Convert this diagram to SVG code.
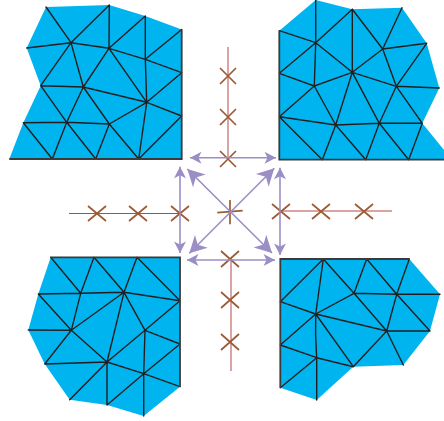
<svg xmlns="http://www.w3.org/2000/svg" width="444" height="421" viewBox="0 0 444 421">
<style>
.fill{fill:#00b5ef;stroke:none}
.mesh{fill:none;stroke:#231f20;stroke-width:1.4;stroke-linejoin:round;stroke-linecap:round}
.edge{fill:none;stroke:#3a3a3c;stroke-width:1.8}
.red{fill:none;stroke:#b4484a;stroke-width:1}
.x{fill:none;stroke:#9c5a35;stroke-width:1.7}
.small{stroke:#9b8ec4;stroke-width:1.6;fill:none;marker-start:url(#hs);marker-end:url(#hs)}
.big{stroke:#9b8ec4;stroke-width:1.6;fill:none;marker-start:url(#hb);marker-end:url(#hb)}
</style>
<defs>
<marker id="hs" markerUnits="userSpaceOnUse" markerWidth="14" markerHeight="16" refX="12.500" refY="8" orient="auto-start-reverse" viewBox="0 0 14 16"><path d="M12.500 8L1 2L4 8L1 14Z" fill="#9b8ec4"/></marker>
<marker id="hb" markerUnits="userSpaceOnUse" markerWidth="20" markerHeight="22" refX="18" refY="11" orient="auto-start-reverse" viewBox="0 0 20 22"><path d="M18 11L1 2L6 11L1 20Z" fill="#9b8ec4"/></marker>
</defs>
<g id="mesh-top-left">
<path class="fill" d="M46 7L109.300 5L145.300 16L181.700 29.500V159H9.300L23.300 122.700L40.700 85.700L26.700 48Z"/>
<path class="mesh" d="M46 7L71 42.700L109.300 5L109 48.300L145.300 16L145.300 59.300L181.700 29.500M26.700 48L71 42.700L109 48.300L145.300 59.300L181.700 72.700L146.700 102.300L181.700 116L138.700 159L146.700 102.300L145.300 59.300M71 42.700L40.700 85.700L83.300 87L71 42.700M109 48.300L83.300 87L146.700 102.300L109 48.300M40.700 85.700L66.700 122.300L83.300 87L109.300 124L146.700 102.300M23.300 122.700L66.700 122.300L109.300 124L95.700 159L66.700 122.300L52.300 159L23.300 122.700M109.300 124L138.700 159"/>
<path class="edge" d="M181.700 29.500V159H9.300"/>
</g>
<g id="mesh-top-right">
<path class="fill" d="M279.300 30.700L315.700 0L352.300 9.300L402 7.700L426.700 43.300L439.300 88L422.300 123.300L444 150V159.700H279.300Z"/>
<path class="mesh" d="M315.700 0V42.700L279.300 30.700M315.700 42.700L352.300 9.300V72.300M352.300 9.300L382.700 49L402 7.700M382.700 49L426.700 43.300L396.300 86.300L439.300 88M382.700 49L396.300 86.300M382.700 49L352.300 72.300L396.300 86.300L422.300 123.300M396.300 86.300L379.300 123.300L352.300 72.300L315.700 42.700L314.300 86L352.300 72.300L335.700 125L314.300 86L279.300 73.300L315.700 42.700M314.300 86L279.300 116.700L335.700 125L379.300 123.300L422.300 123.300L408.700 159.700L379.300 123.300L365.700 159.700L335.700 125L322.300 159.700L279.300 116.700"/>
<path class="edge" d="M279.300 30.700V159.700H444"/>
</g>
<g id="mesh-bottom-left">
<path class="fill" d="M50.700 257.300H180V386.700L143.700 416L107 405L69.700 399.700L44.700 364L28.300 330L38.300 294Z"/>
<path class="mesh" d="M50.700 257.300L80.700 293.300L94 257.300L124 292.300L137 257.300L180 300.700L145 330.300L180 344L143.700 373.700L180 386.700M38.300 294L80.700 293.300L124 292.300L180 300.700M38.300 294L71.300 330.300L28.300 330M80.700 293.300L71.300 330.300L124 292.300L145 330.300L107 362L124 292.300M71.300 330.300L44.700 364L107 362L71.300 330.300M145 330.300L143.700 373.700L107 362L69.700 399.700M107 362V405L143.700 373.700V416"/>
<path class="edge" d="M50.700 257.300H180V386.700"/>
</g>
<g id="mesh-bottom-right">
<path class="fill" d="M280.300 259H409.300L440 294.300L430 331L403.300 365L353.300 366.700L316.700 400L280.300 387.700Z"/>
<path class="mesh" d="M280.300 301.700L323.300 259L354 293.300L366.700 259L396.700 294.300L409.300 259M323.300 259L315.700 314L280.300 301.700M354 293.300L315.700 314L386.700 331L354 293.300L396.700 294.300L440 294.300M396.700 294.300L386.700 331L430 331L396.700 294.300M386.700 331L353.300 366.700L315.700 314L280.300 345L316.700 357.700L353.300 366.700M315.700 314Q315 335 316.700 357.700V400M316.700 357.700L280.300 387.700M386.700 331L403.300 365"/>
<path class="edge" d="M280.300 387.700V259H409.300"/>
</g>
<g id="connectors">
<path class="red" d="M228 47V158M69 213.500H180M281 211H392M231 258V371"/>
<path class="x" d="M220 68L236 84M236 68L220 84M220 109L236 125M236 109L220 125M220 151L236 167M236 151L220 167M88 206L106 221M106 206L88 221M129 206L147 221M147 206L129 221M171 206L189 221M189 206L171 221M272 204L290 219M290 204L272 219M312 204L330 219M330 204L312 219M355 204L373 219M373 204L355 219M221 251L239 267M239 251L221 267M221 292L239 308M239 292L221 308M221 334L239 350M239 334L221 350M217.300 212.700L242.700 210.700M230 200V224.300"/>
<line class="small" x1="190" y1="157.700" x2="276" y2="157.700"/>
<line class="small" x1="187" y1="260" x2="275" y2="260"/>
<line class="small" x1="180" y1="166.700" x2="180" y2="253"/>
<line class="small" x1="280" y1="167.700" x2="280" y2="255"/>
<line class="big" x1="187.300" y1="169" x2="272" y2="253"/>
<line class="big" x1="274.300" y1="168.300" x2="189.300" y2="253.300"/>
</g>
</svg>
